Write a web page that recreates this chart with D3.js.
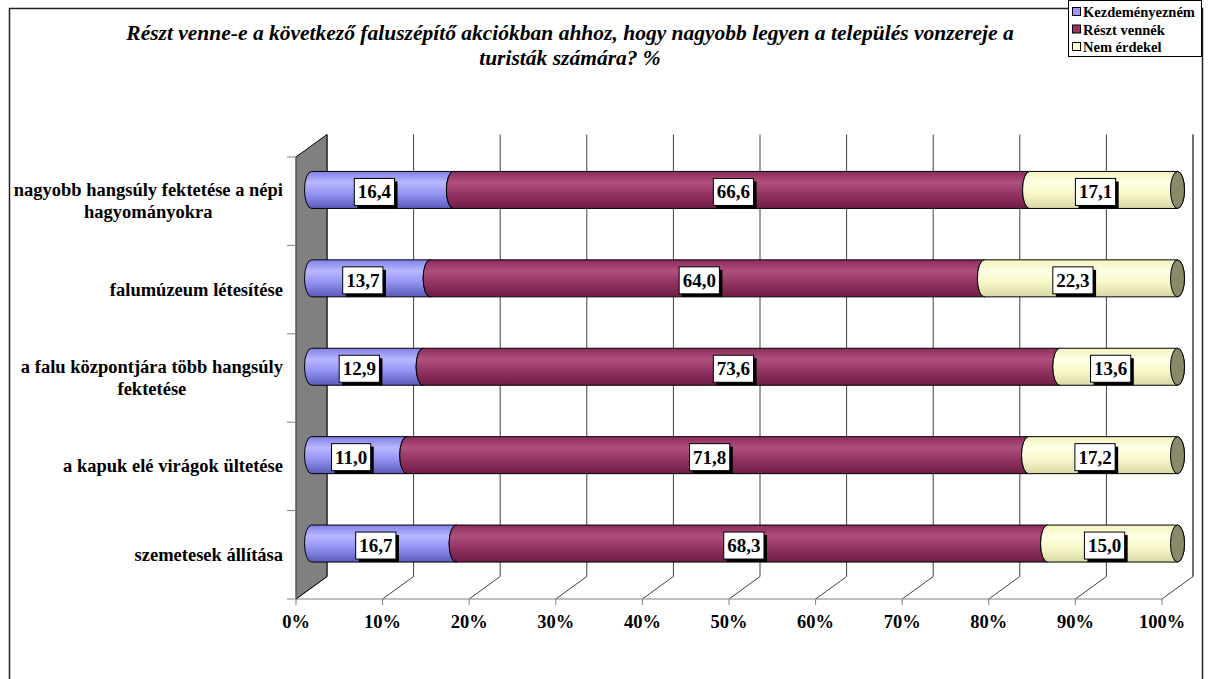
<!DOCTYPE html>
<html><head><meta charset="utf-8">
<script src="https://cdn.jsdelivr.net/npm/d3@7"></script>
<style>
html,body{margin:0;padding:0;background:#fff;}
</style></head>
<body>
<svg id="chart" width="1208" height="679"></svg>
<script>
const categories = [
  "nagyobb hangsúly fektetése a népi\nhagyományokra",
  "falumúzeum létesítése",
  "a falu központjára több hangsúly\nfektetése",
  "a kapuk elé virágok ültetése",
  "szemetesek állítása"
];
const seriesNames = ["Kezdeményezném", "Részt vennék", "Nem érdekel"];
const kezdemenyeznem = [16.4, 13.7, 12.9, 11.0, 16.7];
const resztVennek = [66.6, 64.0, 73.6, 71.8, 68.3];
const nemErdekel = [17.1, 22.3, 13.6, 17.2, 15.0];
const tickValues = [0,10,20,30,40,50,60,70,80,90,100];
const titleLines = ["Részt venne-e a következő faluszépítő akciókban ahhoz, hogy nagyobb legyen a település vonzereje a", "turisták számára? %"];

const FONT = '"Liberation Serif", "Times New Roman", serif';
const svg = d3.select("#chart");

// 3D geometry
const DX = 31, DY = -22.5;
const x = d3.scaleLinear().domain([0,100]).range([296, 1162]);
const y = d3.scaleBand().domain(categories).range([157, 599]).padding(0);
const yTop = 157, yBot = 599;

// outer frame
svg.append("rect").attr("x",9.5).attr("y",8.5).attr("width",1193).attr("height",700)
  .attr("fill","#fff").attr("stroke","#222").attr("stroke-width",1.5);

// defs: gradients
const defs = svg.append("defs");
const grads = [
  {id:"g0", stops:[["0%","#8080e8"],["30%","#b8b8ff"],["60%","#9494f4"],["100%","#5a5ab8"]]},
  {id:"g1", stops:[["0%","#8a2c5c"],["30%","#b0507e"],["60%","#953463"],["100%","#6e1d45"]]},
  {id:"g2", stops:[["0%","#f2f2c0"],["30%","#ffffe4"],["60%","#f8f8cc"],["100%","#d8d8a4"]]}
];
grads.forEach(g=>{
  const lg = defs.append("linearGradient").attr("id",g.id).attr("x1",0).attr("y1",0).attr("x2",0).attr("y2",1);
  g.stops.forEach(s=>lg.append("stop").attr("offset",s[0]).attr("stop-color",s[1]));
});
const swatchColors = ["#9999ff","#993366","#ffffcc"];
const capColors = ["#6b6bc0","#6e2248","#8a8a6a"];

const grid = svg.append("g");
tickValues.forEach(t=>{
  const xf = x(t);
  grid.append("line").attr("x1",xf+DX).attr("x2",xf+DX).attr("y1",yTop+DY).attr("y2",yBot+DY)
    .attr("stroke","#404040").attr("stroke-width",1);
  grid.append("line").attr("x1",xf).attr("y1",yBot).attr("x2",xf+DX).attr("y2",yBot+DY)
    .attr("stroke","#404040").attr("stroke-width",1);
  grid.append("line").attr("x1",xf).attr("x2",xf).attr("y1",yBot).attr("y2",yBot+6)
    .attr("stroke","#808080").attr("stroke-width",1);
});
grid.append("line").attr("x1",x(0)).attr("x2",x(100)).attr("y1",yBot).attr("y2",yBot)
  .attr("stroke","#808080").attr("stroke-width",1);

// left wall
const wallPts = [[x(0),yTop],[x(0)+DX,yTop+DY],[x(0)+DX,yBot+DY],[x(0),yBot]];
svg.append("path").attr("d","M"+wallPts.map(p=>p.join(",")).join("L")+"Z")
  .attr("fill","#808080").attr("stroke","#000").attr("stroke-width",1);
svg.append("line").attr("x1",x(0)).attr("x2",x(0)).attr("y1",yTop).attr("y2",yBot)
  .attr("stroke","#808080").attr("stroke-width",1);
const bounds = categories.map(c=>y(c)).concat([yBot]);
bounds.forEach(b=>{
  svg.append("line").attr("x1",x(0)-9).attr("x2",x(0)).attr("y1",b).attr("y2",b)
    .attr("stroke","#808080").attr("stroke-width",1);
});

// bars
const series = [kezdemenyeznem, resztVennek, nemErdekel];
const RY = 18.5, RX = 7;
const bars = svg.append("g");
const labels = [];
categories.forEach((c,i)=>{
  const total = series.reduce((s,a)=>s+a[i],0);
  let cum = 0;
  const cy = y(c) + y.bandwidth()/2 + DY/2;
  series.forEach((arr,k)=>{
    const v0 = cum/total*100, v1 = (cum+arr[i])/total*100;
    cum += arr[i];
    const x0 = x(v0)+DX/2, x1 = x(v1)+DX/2;
    const top = cy-RY, bot = cy+RY;
    const d = `M${x0},${top}L${x1},${top}A${RX},${RY} 0 0 1 ${x1},${bot}L${x0},${bot}A${RX},${RY} 0 0 1 ${x0},${top}Z`;
    bars.append("path").attr("d",d).attr("fill",`url(#g${k})`).attr("stroke","#000").attr("stroke-width",1);
    bars.append("ellipse").attr("cx",x1).attr("cy",cy).attr("rx",RX).attr("ry",RY)
      .attr("fill",capColors[k]).attr("stroke","#000").attr("stroke-width",1);
    labels.push({x:(x0+x1)/2-8, y:cy+2, text:d3.format(".1f")(arr[i]).replace(".",",")});
  });
});
svg.append("line").attr("x1",x(100)+DX).attr("x2",x(100)+DX).attr("y1",yTop+DY).attr("y2",yBot+DY)
  .attr("stroke","#404040");

function txt(sel){ return sel.append("text").style("font-family",FONT).attr("font-weight","bold"); }

// data labels
const lg = svg.append("g");
labels.forEach(l=>{
  const g = lg.append("g");
  const t = txt(g).attr("x",l.x).attr("y",l.y).attr("text-anchor","middle")
    .attr("dominant-baseline","central").attr("font-size",19).text(l.text);
  const bw = t.node().getComputedTextLength()+7, bh = 27;
  g.insert("rect","text").attr("x",l.x-bw/2+3).attr("y",l.y-bh/2+3).attr("width",bw).attr("height",bh).attr("fill","#000");
  g.insert("rect","text").attr("x",l.x-bw/2).attr("y",l.y-bh/2).attr("width",bw).attr("height",bh)
    .attr("fill","#fff").attr("stroke","#000").attr("stroke-width",1);
});

// category labels
categories.forEach(c=>{
  const lines = c.split("\n");
  const cyF = y(c)+y.bandwidth()/2;
  const g = svg.append("g");
  const lh = 22;
  const texts = lines.map((ln,j)=>txt(g).attr("y",cyF+(j-(lines.length-1)/2)*lh)
    .attr("dominant-baseline","central").attr("text-anchor","middle")
    .attr("font-size",18.5).text(ln));
  const maxW = d3.max(texts,t=>t.node().getComputedTextLength());
  texts.forEach(t=>t.attr("x",283-maxW/2));
});

// x tick labels
tickValues.forEach(t=>{
  txt(svg).attr("x",x(t)).attr("y",622).attr("text-anchor","middle")
    .attr("dominant-baseline","central").attr("font-size",18.5).text(t+"%");
});

// title
titleLines.forEach((ln,j)=>{
  txt(svg).attr("x",570).attr("y",33+j*25).attr("text-anchor","middle")
    .attr("dominant-baseline","central").attr("font-size",21.5)
    .attr("font-style","italic").text(ln);
});

// legend
const leg = svg.append("g");
leg.append("rect").attr("x",1068.5).attr("y",0.5).attr("width",133).attr("height",56)
  .attr("fill","#fff").attr("stroke","#000").attr("stroke-width",1);
seriesNames.forEach((n,k)=>{
  const ry = 12 + k*17.5;
  leg.append("rect").attr("x",1072.5).attr("y",ry-4.5).attr("width",8).attr("height",8)
    .attr("fill",swatchColors[k]).attr("stroke","#000").attr("stroke-width",1);
  txt(leg).attr("x",1083).attr("y",ry).attr("dominant-baseline","central")
    .attr("font-size",14.5).text(n);
});
</script>
</body></html>
